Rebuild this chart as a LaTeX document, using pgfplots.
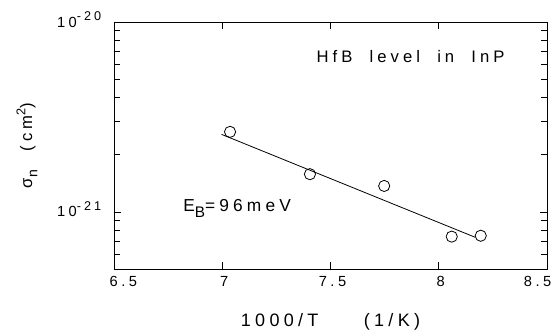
\documentclass[border=0pt]{standalone}
\usepackage{pgfplots}
\pgfplotsset{compat=1.18}
\usepackage{fontspec}
\setmainfont[LetterSpace=24]{Liberation Sans}
\newcommand{\sups}[1]{\raisebox{5pt}{\fontsize{9.5}{10}\selectfont #1}}
\begin{document}
\begin{tikzpicture}
\begin{axis}[
  scale only axis,
  width=324.75pt, height=185.25pt,
  xmin=6.5, xmax=8.5,
  ymode=log, ymin=5e-22, ymax=1e-20,
  xtick={6.5,7,7.5,8,8.5},
  xticklabels={\mbox{\hspace{14pt}6.5},\mbox{\hspace{3pt}7},\mbox{\hspace{3pt}7.5},\mbox{\hspace{3pt}8},\mbox{8.5\hspace{14pt}}},
  ytick={1e-21,1e-20},
  yticklabels={10\sups{-21},10\sups{-20}},
  minor ytick={6e-22,7e-22,8e-22,9e-22,2e-21,3e-21,4e-21,5e-21,6e-21,7e-21,8e-21,9e-21},
  tick align=inside,
  major tick length=5pt,
  minor tick length=4.5pt,
  tick style={black, line width=0.5pt},
  axis line style={line width=0.6pt},
  /pgf/number format/assume math mode=true,
  ticklabel style={font=\fontsize{11}{12}\selectfont},
  xticklabel style={yshift=-2pt},
  yticklabel style={xshift=-6pt, yshift=2pt},
]
\addplot[only marks, mark=o, mark size=4.2pt, mark options={line width=0.6pt}] coordinates {
 (7.036,2.64e-21) (7.405,1.58e-21) (7.748,1.37e-21) (8.06,7.41e-22) (8.194,7.49e-22)
};
\addplot[black, line width=0.6pt] coordinates {(6.997,2.56e-21) (8.167,7.36e-22)};
\node[anchor=center, font=\fontsize{12.5}{14}\selectfont] at (axis cs:7.87,6.55e-21) {HfB\ \ level\ \ in\ \ InP};
\node[anchor=base west, font=\fontsize{13}{14}\selectfont, inner sep=0pt] at (axis cs:6.819,1e-21) {E\raisebox{-4.5pt}{\fontsize{11.5}{12}\selectfont B}=96meV};
\end{axis}
\node[font=\fontsize{13.5}{14}\selectfont] at ([yshift=-39.75pt]current axis.south) {1000/T\hspace{34pt}(1/K)};
\node[rotate=90, font=\fontsize{12.5}{14}\selectfont] at ([xshift=-65.25pt]current axis.west) {σ\raisebox{-4pt}{\fontsize{10.5}{12}\selectfont n}\hspace{14pt}(cm\sups{2})};
\path (current axis.south west) ++(-85.5pt,-46.5pt) coordinate (bbsw);
\path (current axis.north east) ++(4.5pt,16.5pt) coordinate (bbne);
\pgfresetboundingbox
\useasboundingbox (bbsw) rectangle (bbne);
\end{tikzpicture}
\end{document}
